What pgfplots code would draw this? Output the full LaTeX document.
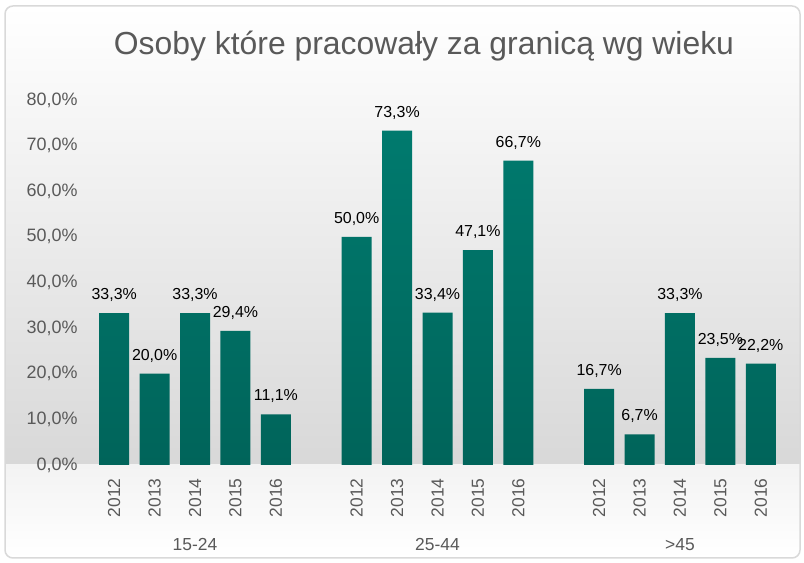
\documentclass[border=0pt]{standalone}
\usepackage{fontspec}
\setmainfont{Liberation Sans}
\usepackage{pgfplots}
\pgfplotsset{compat=1.18}
\definecolor{textgray}{HTML}{595959}
\definecolor{bartop}{HTML}{007A6E}
\definecolor{barbot}{HTML}{00645A}
\definecolor{bgdark}{HTML}{D8D8D8}
\definecolor{bglow}{HTML}{F3F3F3}
\definecolor{bordercol}{HTML}{D9D9D9}
\begin{document}
\begin{tikzpicture}[x=1bp,y=1bp]
\useasboundingbox (0,0) rectangle (804,563);
\fill[white] (0,0) rectangle (804,563);
\begin{scope}
\clip[rounded corners=8] (5,5) rectangle (800,557);
\shade[top color=white, bottom color=bgdark] (5,98) rectangle (800,557);
\shade[top color=bglow, bottom color=white] (5,5) rectangle (800,98);
\end{scope}
\draw[bordercol, line width=1.5bp, rounded corners=8] (5,5) rectangle (800,557);
\node[anchor=base, text=textgray, font=\fontsize{32}{36}\selectfont] at (424,508) {Osoby które pracowały za granicą wg wieku};
\begin{axis}[
  at={(94bp,98bp)}, anchor=south west,
  width=687bp, height=365bp, scale only axis,
  xmin=-0.5, xmax=16.5, ymin=0, ymax=80,
  ybar, bar width=30bp,
  axis line style={draw=none},
  major tick length=0pt,
  clip=false,
  ytick={0,10,...,80},
  xtick={0,1,2,3,4,6,7,8,9,10,12,13,14,15,16},
  xticklabels={2012,2013,2014,2015,2016,2012,2013,2014,2015,2016,2012,2013,2014,2015,2016},
  xticklabel style={yshift=-10bp, rotate=90, anchor=east, text=textgray, font=\fontsize{17.5}{20}\selectfont},
  yticklabel style={text=textgray, font=\fontsize{18}{20}\selectfont, anchor=east, xshift=-13bp},
  /pgf/number format/assume math mode=true,
  yticklabel={\pgfmathprintnumber[fixed,fixed zerofill,precision=1,use comma]{\tick}\%},
  nodes near coords={\pgfmathprintnumber[fixed,fixed zerofill,precision=1,use comma]{\pgfplotspointmeta}\%},
  every node near coord/.append style={font=\fontsize{16}{18}\selectfont, text=black, yshift=8bp},
]
\addplot[draw=none, top color=bartop, bottom color=barbot] coordinates {
 (0,33.3) (1,20.0) (2,33.3) (3,29.4) (4,11.1)
 (6,50.0) (7,73.3) (8,33.4) (9,47.1) (10,66.7)
 (12,16.7) (13,6.7) (14,33.3) (15,23.5) (16,22.2)
};
\node[text=textgray, font=\fontsize{17.5}{20}\selectfont] at (axis cs:2,0) [yshift=-80bp] {15-24};
\node[text=textgray, font=\fontsize{17.5}{20}\selectfont] at (axis cs:8,0) [yshift=-80bp] {25-44};
\node[text=textgray, font=\fontsize{17.5}{20}\selectfont] at (axis cs:14,0) [yshift=-80bp] {>45};
\end{axis}
\end{tikzpicture}
\end{document}
